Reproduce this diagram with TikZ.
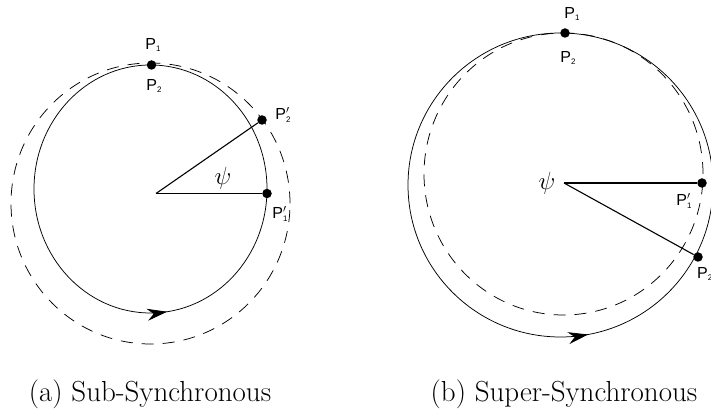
\documentclass[tikz,border=0pt]{standalone}
\usepackage{fontspec}
\newfontfamily\lblfont{Liberation Sans}
\usetikzlibrary{arrows.meta,decorations.markings}

% point labels: P with small index, optionally primed
\newcommand{\Pt}[1]{P\raisebox{-0.3ex}{\fontsize{8}{9}\selectfont #1}}
\newcommand{\Ptp}[1]{P\rlap{$'$}\raisebox{-0.3ex}{\fontsize{8}{9}\selectfont #1}}

\begin{document}
\begin{tikzpicture}[x=1pt,y=1pt,
    dot/.style={circle,fill=black,inner sep=0pt,minimum size=9.5pt},
    lbl/.style={font=\lblfont\fontsize{16}{18}\selectfont,inner sep=1pt},
    subcap/.style={font=\fontsize{29}{34}\selectfont},
    orbit/.style={line width=0.75pt,postaction={decorate},
      decoration={markings,mark=at position #1 with {\arrow{Stealth[length=20pt,width=12pt]}}}},
    shifted/.style={line width=0.75pt,dash pattern=on 12pt off 9pt},
    arm/.style={line width=1.1pt}]
    \useasboundingbox (0,0) rectangle (711,419);

    % (a) sub-synchronous
    \draw[shifted] (150.5,215.5) ellipse [x radius=139.5, y radius=140.5];
    \draw[orbit=0.772] (150.5,230) ellipse [x radius=116.5, y radius=124];
    \coordinate (a-c) at (156,225.5);
    \node[dot] (a-top) at (151.5,354) {};
    \node[dot] (a-p1) at (267,225.5) {};
    \node[dot] (a-p2) at (262,299) {};
    \draw[arm] (a-c) -- (a-p1);
    \draw[arm] (a-c) -- (a-p2);
    \node[lbl] (a-l1) at (153,374) {\Pt{1}};
    \node[lbl] (a-l2) at (154,333) {\Pt{2}};
    \node[lbl] (a-l2b) at (283,304) {\Ptp{2}};
    \node[lbl] (a-l1b) at (280,205) {\Ptp{1}};
    \node[font=\fontsize{25}{30}\selectfont] (a-psi) at (223,241) {$\psi$};
    \node[subcap] (a-cap) at (150,25) {(a) Sub-Synchronous};

    % (b) super-synchronous
    \draw[shifted] (563.5,245) ellipse [x radius=139.5, y radius=141];
    \draw[orbit=0.779] (560.5,234) ellipse [x radius=152.5, y radius=152];
    \coordinate (b-c) at (564,236);
    \node[dot] (b-top) at (565,386) {};
    \node[dot] (b-p1) at (702,236) {};
    \node[dot] (b-p2) at (698,162) {};
    \draw[arm] (b-c) -- (b-p1);
    \draw[arm] (b-c) -- (b-p2);
    \node[lbl] (b-l1) at (572,405) {\Pt{1}};
    \node[lbl] (b-l2) at (568,361) {\Pt{2}};
    \node[lbl] (b-l1b) at (684,218) {\Ptp{1}};
    \node[lbl,anchor=west] (b-l2b) at (696,145) {\Pt{2}};
    \node[font=\fontsize{25}{30}\selectfont] (b-psi) at (547,236) {$\psi$};
    \node[subcap] (b-cap) at (564,25) {(b) Super-Synchronous};
\end{tikzpicture}
\end{document}
